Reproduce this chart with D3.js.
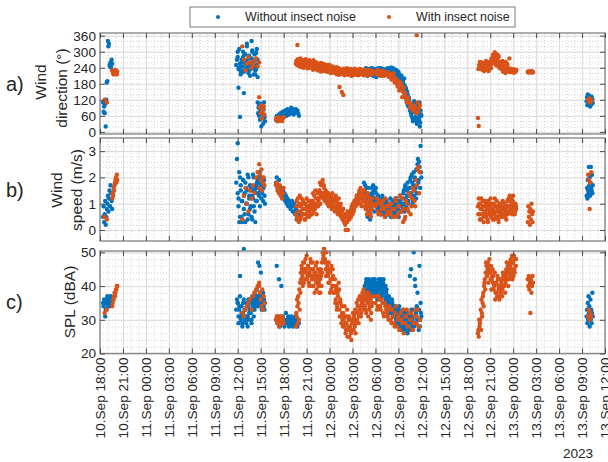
<!DOCTYPE html>
<html><head><meta charset="utf-8">
<script src="https://cdn.jsdelivr.net/npm/d3@7"></script>
<style>
body{margin:0;background:#fff}
svg{display:block}
text{font-family:"Liberation Sans",Arial,Helvetica,sans-serif;fill:#262626}
</style>
</head><body>
<svg id="chart" width="608" height="462"></svg>
<script>
// ---------------- DATA ----------------
const seriesNames = ["Without insect noise", "With insect noise"];
const xTickLabels = ["10.Sep 18:00","10.Sep 21:00","11.Sep 00:00","11.Sep 03:00","11.Sep 06:00","11.Sep 09:00",
  "11.Sep 12:00","11.Sep 15:00","11.Sep 18:00","11.Sep 21:00","12.Sep 00:00","12.Sep 03:00","12.Sep 06:00",
  "12.Sep 09:00","12.Sep 12:00","12.Sep 15:00","12.Sep 18:00","12.Sep 21:00","13.Sep 00:00","13.Sep 03:00",
  "13.Sep 06:00","13.Sep 09:00","13.Sep 12:00"];
const yearLabel = "2023";
const dirTicks = [0, 60, 120, 180, 240, 300, 360];
const speedTicks = [0, 1, 2, 3];
const splTicks = [20, 30, 40, 50];
const panelLetters = ["a)", "b)", "c)"];

// sampling segments: [start hour after 10.Sep 18:00, sampling step in hours]
const withoutSegments = [[0.4,0.07],[17.8,0.1],[20.6,0.06],[23.0,0.1],[34.5,0.1],[63.6,0.05],[18.0,0.1],[34.55,0.1]];
const withoutDir = [
  [110,75,95,70,105,20,120,185,190,340,320,330,250,245,260,240,270,255],
  [250,270,300,165,240,56,225,260,230,280,145,290,255,265,320,245,275,230,210,250,340,300,260,240,290,215,235,310,205],
  [110,70,90,60,100,45,80,105,20,75,95,65,30,85,110,55,40],
  [45,60,40,55,65,50,70,45,60,75,55,65,80,70,60,85,75,65,80,70,90,75,85,65,80,70,85,75,80,70,60],
  [225,232,218,236,222,228,212,235,220,230, 238,225,210,232,220,228,205,235,218,226,
   232,215,228,222,236,210,226,230,218,234, 228,238,220,232,225,240,215,230,222,236,
   225,215,232,200,210,225,195,205,180,210, 170,190,150,175,130,160,110,140,95,120,
   80,105,60,90,40,75,110,55,85,30, 70,100,45,20,80,60],
  [115,130,100,140,120,105,125,135,110,95,128,118,102,132,112,122,108],
  [280,235,310,255,215,270,245,300,225,265,290,240,330,250,220,285,260,235,275,305,245,215,265,230,295,250,270],
  [230,215,238,224,210,232,226,218,236,222, 214,230,236,220,226,212,232,224,238,216,
   226,238,212,230,220,228,234,214,226,222, 232,218,226,236,214,228,240,224,218,230,
   212,228,220,186,222,205,215,190,200,170, 185,160,200,145,165,120,150,100,130,105,
   95,70,100,50,85,115,45,70,95,40, 85,55,110,35,65]
];
const withoutSpeed = [
  [0.5,0.9,0.3,0.6,1.1,0.2,0.5,0.8,1.0,1.3,0.7,1.2,1.5,0.9,1.7,1.4,1.1,0.8],
  [1.8,2.7,3.3,1.2,0.3,2.0,1.5,0.5,1.1,1.9,0.8,1.4,0.3,1.6,1.0,2.1,0.6,1.3,1.7,0.9,1.5,0.4,1.2,2.0,0.7,1.6,1.1,1.8,1.4],
  [2.0,1.6,1.8,1.3,2.2,0.9,1.5,1.7,1.2,2.0,1.4,1.8,1.1,1.6,1.9,1.3,1.0],
  [1.8,2.0,1.6,1.7,1.9,1.5,1.4,1.6,1.3,1.5,1.2,1.4,1.1,1.3,1.0,1.2,0.9,1.1,1.0,0.8,0.9,1.1,0.7,0.9,1.0,0.6,0.8,0.4,0.7,0.5,0.6],
  [1.8,1.5,1.2,1.6,1.0,1.4,0.7,1.3,0.4,1.1, 1.6,1.3,1.7,1.1,1.5,0.9,1.4,1.2,0.8,1.0,
   1.2,0.8,1.1,0.6,1.3,0.9,0.7,1.0,0.5,0.8, 0.9,0.6,1.0,0.7,0.8,0.5,0.9,1.1,0.6,0.8,
   1.0,0.7,1.2,0.8,0.6,1.1,0.9,1.3,0.7,1.0, 1.2,0.8,1.5,1.0,1.7,0.9,1.3,1.8,1.1,1.4,
   1.6,2.0,1.3,1.8,1.1,2.2,1.5,1.9,1.2,2.3, 2.5,1.8,2.6,2.2,3.2,2.0],
  [1.3,1.6,1.2,1.9,1.5,1.4,2.4,1.7,2.0,1.3,1.8,2.4,1.6,1.5,2.1,1.4,1.7],
  [1.4,0.9,2.2,0.5,1.7,1.1,0.3,1.9,1.3,0.6,1.8,1.0,1.5,0.4,2.0,1.2,0.8,1.6,0.5,1.3,2.1,0.9,1.5,0.3,1.7,1.1,1.9],
  [1.4,1.7,0.9,1.2,0.5,1.6,1.0,0.6,1.3,0.8, 1.4,1.0,1.5,0.7,1.2,1.6,1.1,0.9,1.3,0.7,
   1.0,0.6,0.9,1.2,0.7,1.1,0.6,0.9,0.8,1.1, 0.7,1.0,0.8,0.6,1.2,0.9,0.7,1.0,0.8,0.6,
   0.9,1.2,0.6,1.0,0.8,0.5,1.1,0.7,0.9,1.2, 1.0,1.4,0.7,1.6,1.2,0.8,1.5,1.0,1.6,1.3,
   1.9,1.4,2.1,1.0,1.7,1.3,2.0,1.6,2.3,1.4, 2.7,1.9,2.4,1.6,2.2]
];
const withoutSpl = [
  [35,34,36,35,31,33,35,36,37,34,35,36,35,34,37,36,35,36],
  [33,36,35,31,34,43,30,32,29,35,51,33,31,30,34,28,36,32,33,35,30,37,34,36,33,35,37,36,34],
  [36,47,37,35,46,38,34,44,36,33,37,35,38,34,36,33,35],
  [30,46,29,31,42,28,30,40,29,31,30,28,29,32,30,29,31,28,30,29,31,30,28,29,30,31,29,30,28,30,29],
  [36,40,37,42,38,39,41,37,40,38, 40,38,41,39,42,37,40,38,41,39,
   41,39,42,38,40,41,37,39,40,38, 37,35,36,33,34,36,32,35,33,31,
   34,32,30,33,29,31,34,28,32,30, 31,29,33,27,30,28,32,26,30,29,
   43,30,33,28,31,50,29,40,32,34, 38,30,33,28,35,31],
  [31,33,29,35,30,37,32,34,28,31,36,30,33,29,32,38,31],
  [35,29,33,37,31,34,28,32,36,30,33,29,35,31,34,30,36,32,29,35,33,31,38,34,36,39,37],
  [39,37,41,38,36,40,42,39,37,41, 39,42,37,40,38,41,39,36,40,42,
   38,40,37,41,39,42,38,40,36,39, 36,34,37,32,35,33,36,31,34,32,
   31,33,29,32,30,33,28,31,29,27, 30,28,32,29,27,31,28,30,27,31,
   29,45,27,30,33,28,42,31,29,30, 33,27,46,30,32]
];

const withSegments = [[0.6,0.3],[1.6,0.06],[18.6,0.2],[20.8,0.1],[23.0,0.1],[25.6,0.1],[36.0,0.2],[49.4,0.1],[55.9,0.07],[63.8,0.1],
  [25.65,0.1],[36.1,0.2],[49.45,0.1]];
const withDir = [
  [120,110],
  [230,225,220,215,228,222,218,232,225,220,215,226],
  [320,270,230,255,280,260,240,250,265,275,245,260],
  [130,90,70,100,50,80,95,65],
  [50,45,40,55,48,42,52,46,40,50,55],
  [255,262,325,270,248,258,275,252,265,245, 268,250,260,272,245,255,265,240,258,248,
   262,238,250,268,242,255,235,260,248,240, 252,230,245,258,238,248,228,242,250,235,
   245,225,240,232,250,228,238,222,245,232, 240,220,235,228,215,238,225,168,232,218,
   149,230,138,222,235,215,228,238,220,232, 225,215,235,222,230,212,228,236,218,226,
   232,220,228,215,235,222,230,218,226,233, 220,228,215,232,224,218,230,222,226,215,228],
  [225,215,230,210,220,228,212,218,222,215, 208,200,220,195,180,190,160,175,150,140, 125,130,110,100,95,85,90,362,75,100],
  [52,22,240,255,245,260,235,250,228,248, 242,258,236,252,230,262,245,238,255,270,
   285,260,298,275,248,290,265,280,240,258, 250,235,265,225,255,240,220,260,245,230,
   228,275,232,235,225,230,222,234,228,226,232],
  [225,222,226,224,223,225,227,222,224,226,223],
  [120,115,125,110,118],
  [265,250,272,258,245,268,255,242,262,250, 240,265,252,246,262,238,252,268,244,256,
   245,255,232,250,260,236,246,252,230,244, 240,256,226,248,236,242,254,232,240,228,
   238,250,226,236,244,220,232,240,226,238, 226,234,218,242,222,230,214,236,224,228,
   218,226,236,212,224,230,218,226,214,234, 218,228,210,232,220,226,216,230,222,214,
   226,212,234,220,226,216,232,224,212,228, 216,230,224,212,226,220,232,214,224,218],
  [220,232,214,226,218,210,224,216,206,218,196,212,185,200,170,155,185,130,165,145,110,120,90,105,80,95,70,110,88],
  [235,250,262,240,255,232,245,258,236,252, 265,240,250,228,260,242,256,275,262,288,
   270,292,255,280,268,250,285,245,262,238, 258,242,228,250,236,262,226,240,252,234,
   232,224,236,228,230,226,234,222,230,228]
];
const withSpeed = [
  [0.5,0.4],
  [1.2,1.4,1.3,1.6,1.5,1.7,1.8,1.9,2.0,1.8,2.1,1.9],
  [0.4,1.3,1.6,1.0,0.7,1.5,1.2,1.7,1.4,2.0,2.2,2.5],
  [1.6,2.1,1.9,2.3,1.5,1.8,2.0,1.7],
  [1.7,1.8,1.5,1.6,1.4,1.7,1.3,1.5,1.2,1.4,1.6],
  [0.6,1.1,0.4,0.9,0.3,1.3,0.7,0.5,1.0,0.8, 0.6,1.0,0.4,0.8,1.2,0.5,0.9,0.7,1.1,0.6,
   0.9,0.6,1.1,0.7,1.3,0.8,1.0,0.6,1.2,0.9, 1.2,1.5,1.0,1.7,1.3,1.9,1.4,1.6,1.1,1.5,
   1.3,1.0,1.4,0.9,1.2,1.1,1.3,0.8,1.0,1.2, 1.1,0.7,1.3,0.9,1.0,0.6,1.2,0.8,0.9,0.5,
   0.7,0.4,0.8,0.3,0.6,0.0,0.5,0.3,0.0,0.6, 0.4,0.7,0.5,0.9,0.6,1.0,0.8,1.1,0.9,1.2,
   1.0,1.3,1.1,1.5,1.2,1.4,0.9,1.3,1.1,1.5, 1.2,0.8,1.0,0.6,1.3,0.9,0.7,1.1,0.5,0.8,1.0],
  [0.9,1.2,0.6,1.0,0.8,1.1,0.5,0.9,0.7,1.0, 0.6,0.8,0.5,1.2,0.5,0.9,1.3,0.7,0.3,0.4, 1.1,0.8,1.4,0.6,1.2,1.5,0.9,1.7,2.4,2.2],
  [0.9,1.2,0.6,1.0,0.4,0.8,1.1,0.5,0.9,0.7, 1.0,0.6,0.8,0.3,1.1,0.7,0.9,0.5,1.0,0.6,
   0.8,0.4,1.2,0.7,0.9,0.5,0.8,0.3,1.0,0.6, 0.7,0.9,0.5,0.8,0.6,1.0,0.7,0.4,0.9,0.6,
   1.2,0.9,1.1,0.7,1.0,0.8,1.3,0.9,0.6,1.0,0.8],
  [0.3,0.9,0.5,0.7,0.2,0.8,0.4,1.0,0.6,0.3,0.7],
  [2.1,1.9,0.8,1.8,2.2],
  [0.9,0.5,1.2,0.7,1.0,0.4,0.9,1.2,0.6,1.1, 0.8,0.4,1.0,0.6,0.9,0.7,1.1,0.5,0.8,1.0,
   1.1,0.8,1.4,0.9,1.0,1.5,1.2,0.9,1.4,1.1, 1.5,1.8,1.3,1.4,1.8,1.2,1.7,1.3,1.4,1.2,
   1.1,1.4,1.2,1.0,1.3,0.9,1.1,1.4,0.9,1.1, 0.9,1.2,0.8,1.1,0.7,1.0,0.9,0.6,1.0,0.7,
   0.5,0.8,0.4,0.6,0.2,0.5,0.3,0.7,0.4,0.5, 0.6,0.5,0.8,0.7,1.0,0.7,1.1,0.9,1.0,1.3,
   1.2,1.0,1.4,1.2,1.6,1.0,1.4,1.2,1.5,1.3, 0.9,1.1,0.8,1.4,0.7,1.0,1.2,0.6,0.9,1.2],
  [1.0,0.7,1.1,0.6,0.9,0.8,1.2,0.6,0.9,0.7,1.0,0.5,0.8,1.1,0.6,0.9,0.7,1.2,0.8,0.5,1.0,0.7,1.3,0.9,1.6,1.1,1.9,2.3,1.4],
  [0.6,1.0,0.4,0.8,1.2,0.6,0.9,0.3,0.7,1.1, 0.5,0.9,0.4,1.0,0.6,0.8,1.2,0.5,0.7,0.4,
   1.0,0.6,0.9,0.5,1.1,0.7,0.4,0.9,0.6,1.0, 0.5,0.8,1.1,0.6,0.9,0.5,0.8,0.6,1.1,0.7,
   0.9,1.3,0.8,1.2,0.6,1.1,0.9,1.0,0.7,0.9]
];
const withSpl = [
  [32,33],
  [34,35,36,36,37,38,37,38,39,39,40,40],
  [32,31,33,34,35,36,33,37,38,39,40,41],
  [40,38,36,34,39,33,37,35],
  [30,31,29,30,28,31,30,29,31,30,29],
  [28,31,34,37,30,33,38,42,45,40, 44,47,42,45,49,43,46,41,44,48,
   45,42,47,40,44,43,46,39,42,45, 41,44,38,43,47,50,49,51,48,45,
   50,46,43,47,41,44,39,42,45,40, 38,42,36,40,34,37,41,33,36,31,
   34,30,32,28,31,26,29,33,27,30, 25,28,26,30,27,29,31,28,26,32,
   30,34,29,33,36,31,35,38,33,36, 34,37,32,36,35,38,33,36,30,34,37],
  [35,33,37,34,36,32,35,33,31,34, 30,33,29,32,28,31,27,30,33,29, 31,28,32,30,27,29,33,31,28,30],
  [26,25,28,30,27,32,35,38,40,42, 44,46,43,47,45,48,44,46,42,45,
   43,40,44,38,41,37,42,39,36,40, 38,42,39,43,40,44,41,45,42,46,
   44,47,43,48,45,42,47,49,44,46,48],
  [42,40,43,39,41,32,42,38,40,43,41],
  [31,33,30,32,31],
  [32,36,29,35,39,41,44,46,43,47, 41,45,48,44,42,46,43,40,45,47,
   43,40,45,42,38,44,41,47,43,40, 38,42,45,40,44,48,51,47,50,43,
   47,44,41,45,38,42,46,40,43,38, 40,35,39,33,38,35,39,31,35,29,
   32,28,30,34,29,27,31,25,28,31, 27,30,24,29,32,27,30,33,29,35,
   32,36,31,37,34,32,37,35,39,34, 36,33,38,35,31,37,34,36,32,35],
  [37,34,36,33,35,31,34,32,30,33,29,31,28,34,30,27,32,29,26,31,33,28,30,32,27,31,29,33,28],
  [27,30,29,33,36,31,37,34,41,39, 47,43,45,41,44,46,42,39,43,41,
   39,44,36,41,38,43,40,37,42,39, 41,37,44,40,42,38,43,47,44,40,
   42,45,46,44,49,47,43,45,48,46]
];

// ---------------- CHART ----------------
const svg = d3.select("#chart");
const colors = ["#0072BD", "#D95319"];
const left = 100, right = 605;
const parseTick = d3.timeParse("%d.%b %H:%M %Y");
const tickDates = xTickLabels.map(l => parseTick(l + " " + yearLabel));
const t0 = tickDates[0];
const x = d3.scaleTime().domain([t0, tickDates[tickDates.length - 1]]).range([left, right]);
const minorX = d3.timeHour.every(1).range(t0, tickDates[tickDates.length - 1]);
const toDate = h => new Date(t0.getTime() + h * 3600e3);

function expand(segments, values) {
  const pts = [];
  segments.forEach((s, k) => values[k].forEach((v, i) => pts.push({t: toDate(s[0] + i * s[1]), v})));
  return pts;
}

const panels = [
  {top: 33, bottom: 134, domain: [-8, 370], ticks: dirTicks, minor: 20,
   data: [expand(withoutSegments, withoutDir), expand(withSegments, withDir)],
   labels: [["Wind", 41, 82], ["direction (°)", 62, 88]], letterY: 84},
  {top: 138, bottom: 241, domain: [-0.42, 3.5], ticks: speedTicks, minor: 0.2,
   data: [expand(withoutSegments, withoutSpeed), expand(withSegments, withSpeed)],
   labels: [["Wind", 57, 190], ["speed (m/s)", 77, 190]], letterY: 190},
  {top: 251, bottom: 353.5, domain: [20, 50.4], ticks: splTicks, minor: 2,
   data: [expand(withoutSegments, withoutSpl), expand(withSegments, withSpl)],
   labels: [["SPL (dBA)", 70, 302]], letterY: 302}
];

panels.forEach((p, pi) => {
  const y = d3.scaleLinear().domain(p.domain).range([p.bottom, p.top]);
  const h = p.bottom - p.top, w = right - left;
  const g = svg.append("g");
  const minorY = d3.range(p.ticks[0], p.domain[1], p.minor).filter(v => v >= p.domain[0]);

  // minor grid
  g.append("g").attr("transform", `translate(0,${p.bottom})`)
    .call(d3.axisBottom(x).tickValues(minorX).tickSize(-h).tickFormat(""))
    .call(s => s.select(".domain").remove())
    .selectAll("line").attr("stroke", "#c6c6c6").attr("stroke-dasharray", "1,2").attr("stroke-width", 0.8);
  g.append("g").attr("transform", `translate(${left},0)`)
    .call(d3.axisLeft(y).tickValues(minorY).tickSize(-w).tickFormat(""))
    .call(s => s.select(".domain").remove())
    .selectAll("line").attr("stroke", "#c6c6c6").attr("stroke-dasharray", "1,2").attr("stroke-width", 0.8);
  // major grid
  g.append("g").attr("transform", `translate(0,${p.bottom})`)
    .call(d3.axisBottom(x).tickValues(tickDates).tickSize(-h).tickFormat(""))
    .call(s => s.select(".domain").remove())
    .selectAll("line").attr("stroke", "#dcdcdc").attr("stroke-width", 1);
  g.append("g").attr("transform", `translate(${left},0)`)
    .call(d3.axisLeft(y).tickValues(p.ticks).tickSize(-w).tickFormat(""))
    .call(s => s.select(".domain").remove())
    .selectAll("line").attr("stroke", "#dcdcdc").attr("stroke-width", 1);

  // points
  p.data.forEach((pts, si) => {
    g.append("g").selectAll("circle").data(pts).join("circle")
      .attr("cx", d => x(d.t)).attr("cy", d => y(d.v)).attr("r", 2.2)
      .attr("fill", colors[si]);
  });

  // frame
  g.append("rect").attr("x", left).attr("y", p.top).attr("width", w).attr("height", h)
    .attr("fill", "none").attr("stroke", "#8a8a8a").attr("stroke-width", 1.4);

  // axes with inward ticks
  const tickStyle = s => { s.select(".domain").remove(); s.selectAll("line").attr("stroke", "#4a4a4a"); };
  const ya = g.append("g").attr("transform", `translate(${left},0)`)
    .call(d3.axisLeft(y).tickValues(p.ticks).tickFormat(d3.format("d"))
      .tickSizeInner(-5).tickSizeOuter(0).tickPadding(4))
    .call(tickStyle);
  ya.selectAll("text").attr("font-size", 13.6).attr("fill", "#262626").attr("font-family", null);
  g.append("g").attr("transform", `translate(${right},0)`)
    .call(d3.axisRight(y).tickValues(p.ticks).tickSizeInner(-5).tickSizeOuter(0).tickFormat(""))
    .call(tickStyle);
  g.append("g").attr("transform", `translate(0,${p.top})`)
    .call(d3.axisTop(x).tickValues(tickDates).tickSizeInner(-5).tickSizeOuter(0).tickFormat(""))
    .call(tickStyle);
  const xa = g.append("g").attr("transform", `translate(0,${p.bottom})`)
    .call(d3.axisBottom(x).tickValues(tickDates).tickSizeInner(-5).tickSizeOuter(0)
      .tickFormat(pi === 2 ? (d, i) => xTickLabels[i] : ""))
    .call(tickStyle);
  if (pi === 2) {
    xa.selectAll("text").attr("font-size", 13.6).attr("font-family", null).attr("fill", "#262626")
      .attr("transform", "rotate(-90)").attr("x", -4).attr("y", 0).attr("dy", "0.35em")
      .attr("text-anchor", "end");
  }

  // axis labels
  p.labels.forEach(([txt, cx, cy]) => {
    svg.append("text").attr("transform", `translate(${cx},${cy}) rotate(-90)`)
      .attr("text-anchor", "middle").attr("dy", "0.35em").attr("font-size", 15.5).text(txt);
  });
  svg.append("text").attr("x", 6).attr("y", p.letterY).attr("dy", "0.35em")
    .attr("font-size", 20).text(panelLetters[pi]);
});

// year label
svg.append("text").attr("x", 578).attr("y", 458).attr("text-anchor", "middle")
  .attr("font-size", 13.6).text(yearLabel);

// legend
const lg = svg.append("g");
lg.append("rect").attr("x", 190).attr("y", 7).attr("width", 325).attr("height", 20)
  .attr("fill", "#fff").attr("stroke", "#7a7a7a").attr("stroke-width", 1);
const legendPos = [[218, 245], [389, 416]];
seriesNames.forEach((n, i) => {
  lg.append("circle").attr("cx", legendPos[i][0]).attr("cy", 17).attr("r", 2).attr("fill", colors[i]);
  lg.append("text").attr("x", legendPos[i][1]).attr("y", 17).attr("dy", "0.35em")
    .attr("font-size", 12.4).text(n);
});
</script>
</body></html>
